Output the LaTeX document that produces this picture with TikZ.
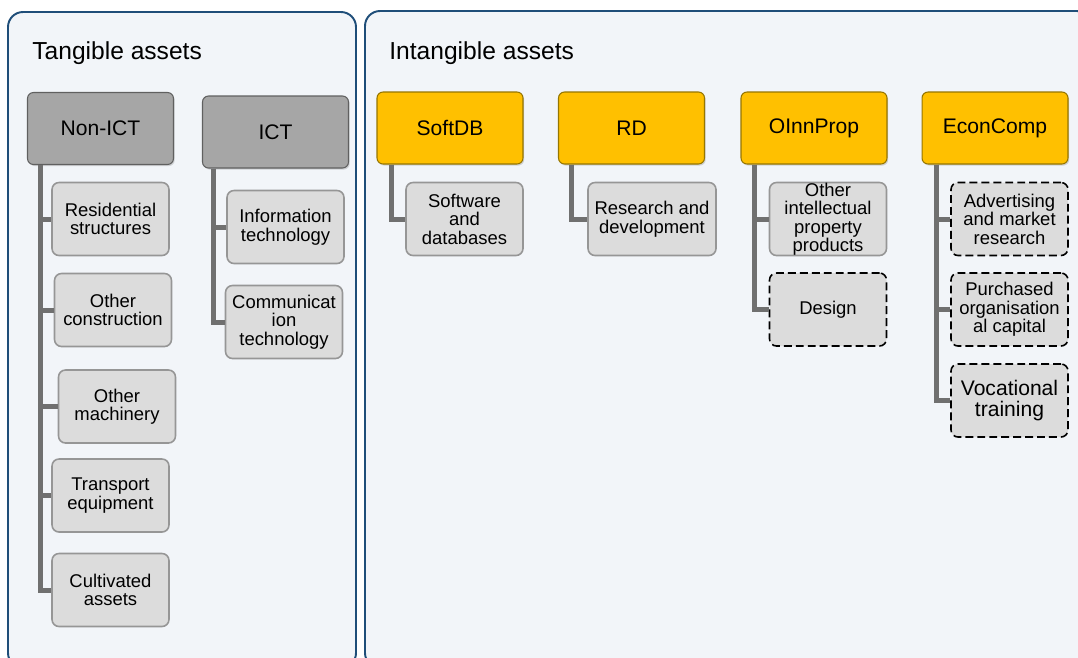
\documentclass[tikz,border=0pt]{standalone}
\usepackage{fontspec}
\setmainfont{Liberation Sans}
\usetikzlibrary{positioning,shadows}
\definecolor{panelfill}{RGB}{242,245,249}
\definecolor{panelline}{RGB}{31,78,121}
\definecolor{hdrgray}{RGB}{166,166,166}
\definecolor{hdrgrayline}{RGB}{96,96,96}
\definecolor{hdrgold}{RGB}{255,192,0}
\definecolor{hdrgoldline}{RGB}{150,118,0}
\definecolor{itemfill}{RGB}{220,220,220}
\definecolor{itemline}{RGB}{150,150,150}
\definecolor{linegray}{RGB}{112,112,112}

\begin{document}
\begin{tikzpicture}[x=0.02cm, y=-0.02cm,
    panel/.style={draw=panelline, line width=1.1pt, fill=panelfill, rounded corners=0.3cm},
    title/.style={anchor=base west, inner sep=0pt, font=\fontsize{14}{14}\selectfont},
    hdr/.style={rounded corners=0.12cm, minimum width=2.92cm, minimum height=1.44cm,
        inner sep=0pt, line width=0.6pt, font=\fontsize{12}{12}\selectfont,
        drop shadow={opacity=0.3, shadow xshift=0.7pt, shadow yshift=-0.9pt}},
    hdrgrey/.style={hdr, fill=hdrgray, draw=hdrgrayline},
    hdryellow/.style={hdr, fill=hdrgold, draw=hdrgoldline},
    item/.style={rounded corners=0.14cm, minimum width=2.34cm, minimum height=1.46cm,
        inner xsep=1pt, inner ysep=0pt, align=center, fill=itemfill, draw=itemline,
        line width=0.9pt, font=\fontsize{10.5}{10.5}\selectfont},
    itemdash/.style={item, draw=black, dash pattern=on 4.5pt off 2.3pt},
    conn/.style={draw=linegray, line width=0.1cm}]

    \useasboundingbox (0,0) rectangle (1078,657);

    % Panels
    \fill[white] (0,0) rectangle (1078,657);
    \draw[panel] (8,12) rectangle (356,668);
    \draw[panel] (365,11) rectangle (1092,668);
    \node[title] (tang) at (32,59) {Tangible assets};
    \node[title] (intang) at (389,59) {Intangible assets};

    % Headers
    \node[hdrgrey] (nonict) at (100.5,128.5) {Non-ICT};
    \node[hdrgrey] (ict) at (275.5,132) {ICT};
    \node[hdryellow] (softdb) at (450,128) {SoftDB};
    \node[hdryellow] (rd) at (631.5,128) {RD};
    \node[hdryellow] (oinn) at (814,128) {OInnProp};
    \node[hdryellow] (econ) at (995,128) {EconComp};

    % Tangible items
    \node[item] (res) at (110.5,219) {Residential\\structures};
    \node[item] (ocon) at (113,310) {Other\\construction};
    \node[item] (omach) at (117,406.5) {Other\\machinery};
    \node[item] (trans) at (110.5,495.5) {Transport\\equipment};
    \node[item] (cult) at (110.5,590) {Cultivated\\assets};
    \node[item] (itech) at (285.5,227) {Information\\technology};
    \node[item] (ctech) at (284,322) {Communicat\\ion\\technology};

    % Intangible items
    \node[item] (soft) at (464.5,219) {Software\\and\\databases};
    \node[item, minimum width=2.56cm] (rdev) at (652,219) {Research and\\development};
    \node[item] (oip) at (828,219) {Other\\intellectual\\property\\products};
    \node[itemdash] (design) at (828,309.5) {Design};
    \node[itemdash] (adv) at (1009.5,219) {Advertising\\and market\\research};
    \node[itemdash] (purch) at (1009.5,309.5) {Purchased\\organisation\\al capital};
    \node[itemdash, font=\fontsize{12}{12}\selectfont] (voc) at (1009.5,400.5) {Vocational\\training};

    % Connectors
    \foreach \c in {res,ocon,omach,trans,cult}
        \draw[conn] ([xshift=0.28cm]nonict.south west) |- (\c.west);
    \foreach \c in {itech,ctech}
        \draw[conn] ([xshift=0.24cm]ict.south west) |- (\c.west);
    \draw[conn] ([xshift=0.3cm]softdb.south west) |- (soft.west);
    \draw[conn] ([xshift=0.28cm]rd.south west) |- (rdev.west);
    \foreach \c in {oip,design}
        \draw[conn] ([xshift=0.28cm]oinn.south west) |- (\c.west);
    \foreach \c in {adv,purch,voc}
        \draw[conn] ([xshift=0.3cm]econ.south west) |- (\c.west);
\end{tikzpicture}
\end{document}
